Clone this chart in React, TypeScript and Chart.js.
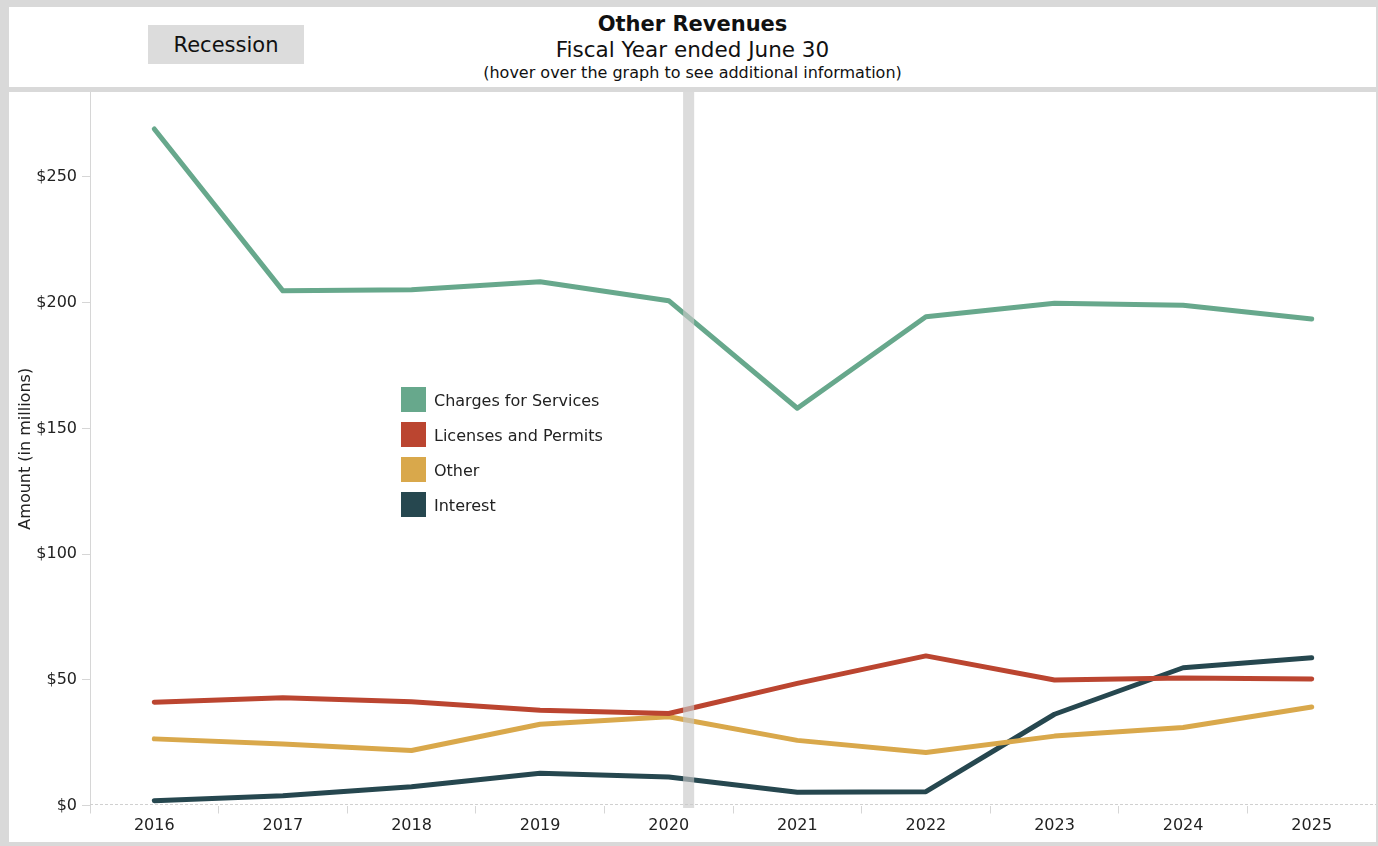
import React, { useEffect, useRef } from "react";
import { Chart, registerables } from "chart.js";

Chart.register(...registerables);

const years = ["2016", "2017", "2018", "2019", "2020", "2021", "2022", "2023", "2024", "2025"];
const chargesForServices = [269.1, 204.7, 205.1, 208.3, 200.8, 158.0, 194.4, 199.8, 199.0, 193.5];
const licensesAndPermits = [41.1, 42.9, 41.3, 37.9, 36.6, 48.6, 59.5, 49.9, 50.7, 50.3];
const otherRevenue = [26.5, 24.5, 21.9, 32.3, 35.3, 25.9, 21.1, 27.6, 31.0, 39.2];
const interest = [1.9, 3.9, 7.5, 12.8, 11.3, 5.3, 5.5, 36.3, 54.8, 58.8];
const yTickValues = [0, 50, 100, 150, 200, 250];
const yMax = 283.8;
// recession period as fractional fiscal-year positions
const recessionFrom = 2020.112;
const recessionTo = 2020.198;

const FONT = "'DejaVu Sans', Verdana, sans-serif";

const recessionPlugin = {
  id: "recessionBand",
  afterDatasetsDraw(chart: any) {
    const { ctx, scales } = chart;
    const x = scales.x;
    const y = scales.y;
    const base = Number(years[0]);
    const x1 = x.getPixelForValue(recessionFrom - base);
    const x2 = x.getPixelForValue(recessionTo - base);
    ctx.save();
    ctx.fillStyle = "rgba(200,200,200,0.64)";
    ctx.fillRect(x1, 0, x2 - x1, y.getPixelForValue(0) + 2.5);
    ctx.restore();
  },
  beforeDatasetsDraw(chart: any) {
    const { ctx, chartArea, scales } = chart;
    const y0 = Math.round(scales.y.getPixelForValue(0)) - 1.5;
    ctx.save();
    ctx.strokeStyle = "#d0d0d0";
    ctx.lineWidth = 1;
    ctx.setLineDash([3, 2]);
    ctx.beginPath();
    ctx.moveTo(chartArea.left, y0);
    ctx.lineTo(chartArea.right, y0);
    ctx.stroke();
    ctx.restore();
  },
};

const legendPlugin = {
  id: "innerLegend",
  afterDraw(chart: any) {
    const { ctx } = chart;
    const x0 = 392;
    const y0 = 295;
    const step = 35;
    ctx.save();
    chart.data.datasets.forEach((ds: any, i: number) => {
      const y = y0 + i * step;
      ctx.fillStyle = ds.borderColor;
      ctx.fillRect(x0, y, 25, 25);
      ctx.fillStyle = "#222";
      ctx.font = `16px ${FONT}`;
      ctx.textBaseline = "middle";
      ctx.textAlign = "left";
      ctx.fillText(ds.label, x0 + 33, y + 14.5);
    });
    ctx.restore();
  },
};

function ChartPanel() {
  const ref = useRef<HTMLCanvasElement | null>(null);
  useEffect(() => {
    if (!ref.current) return;
    const mk = (label: string, data: number[], color: string) => ({
      label,
      data,
      borderColor: color,
      backgroundColor: color,
      borderWidth: 5,
      pointRadius: 0,
      tension: 0,
      borderCapStyle: "round",
      borderJoinStyle: "round",
      fill: false,
    });
    const chart = new Chart(ref.current, {
      type: "line",
      data: {
        labels: years,
        datasets: [
          mk("Charges for Services", chargesForServices, "#67a88c"),
          mk("Licenses and Permits", licensesAndPermits, "#bb4530"),
          mk("Other", otherRevenue, "#d9a84b"),
          mk("Interest", interest, "#26474f"),
        ] as any,
      },
      options: {
        animation: false,
        responsive: false,
        maintainAspectRatio: false,
        layout: { padding: 0 },
        plugins: {
          legend: { display: false },
          tooltip: { enabled: false },
          title: { display: false },
        },
        scales: {
          x: {
            type: "category",
            offset: true,
            grid: {
              offset: true,
              drawOnChartArea: false,
              drawTicks: true,
              tickLength: 8,
              color: "#d6d6d6",
            },
            border: { display: false },
            ticks: {
              color: "#222",
              font: { family: FONT, size: 16 },
              padding: 3,
              maxRotation: 0,
              autoSkip: false,
            },
            afterFit(scale: any) {
              scale.height = 36.5;
              scale.paddingLeft = 0;
              scale.paddingRight = 0;
            },
          },
          y: {
            type: "linear",
            min: 0,
            max: yMax,
            afterBuildTicks(scale: any) {
              scale.ticks = yTickValues.map((v) => ({ value: v }));
            },
            grid: {
              drawOnChartArea: false,
              drawTicks: true,
              tickLength: 8,
              color: "#d6d6d6",
            },
            border: { display: true, color: "#d6d6d6", width: 1 },
            ticks: {
              color: "#222",
              font: { family: FONT, size: 16 },
              padding: 5,
              callback: (v: any) => "$" + v,
            },
            title: {
              display: true,
              text: "Amount (in millions)",
              color: "#222",
              font: { family: FONT, size: 16 },
              padding: { top: 7, bottom: 0 },
            },
            afterFit(scale: any) {
              scale.width = 81;
              scale.paddingTop = 0;
              scale.paddingBottom = 0;
            },
          },
        },
      } as any,
      plugins: [recessionPlugin, legendPlugin],
    });
    return () => chart.destroy();
  }, []);
  return <canvas ref={ref} width={1367} height={750} style={{ display: "block" }} />;
}

export default function App() {
  useEffect(() => {
    document.body.style.margin = "0";
  }, []);
  return (
    <div
      style={{
        position: "fixed",
        left: 0,
        top: 0,
        width: 1378,
        height: 846,
        background: "#d9d9d9",
        fontFamily: FONT,
        overflow: "hidden",
      }}
    >
      <div
        style={{
          position: "absolute",
          left: 9,
          top: 7,
          width: 1367,
          height: 80,
          background: "#fff",
        }}
      >
        <div
          style={{
            position: "absolute",
            left: 139,
            top: 18,
            width: 156,
            height: 39,
            background: "#dcdcdc",
            color: "#111",
            fontSize: 21,
            lineHeight: "41px",
            textAlign: "center",
          }}
        >
          Recession
        </div>
        <div
          style={{
            position: "absolute",
            left: 0,
            right: 0,
            top: 5,
            textAlign: "center",
            color: "#111",
          }}
        >
          <div style={{ fontWeight: "bold", fontSize: 21, lineHeight: "24px" }}>Other Revenues</div>
          <div style={{ fontSize: 21.5, lineHeight: "27px" }}>Fiscal Year ended June 30</div>
          <div style={{ fontSize: 16, lineHeight: "20px" }}>
            (hover over the graph to see additional information)
          </div>
        </div>
      </div>
      <div
        style={{
          position: "absolute",
          left: 9,
          top: 92,
          width: 1367,
          height: 750,
          background: "#fff",
        }}
      >
        <ChartPanel />
      </div>
    </div>
  );
}
